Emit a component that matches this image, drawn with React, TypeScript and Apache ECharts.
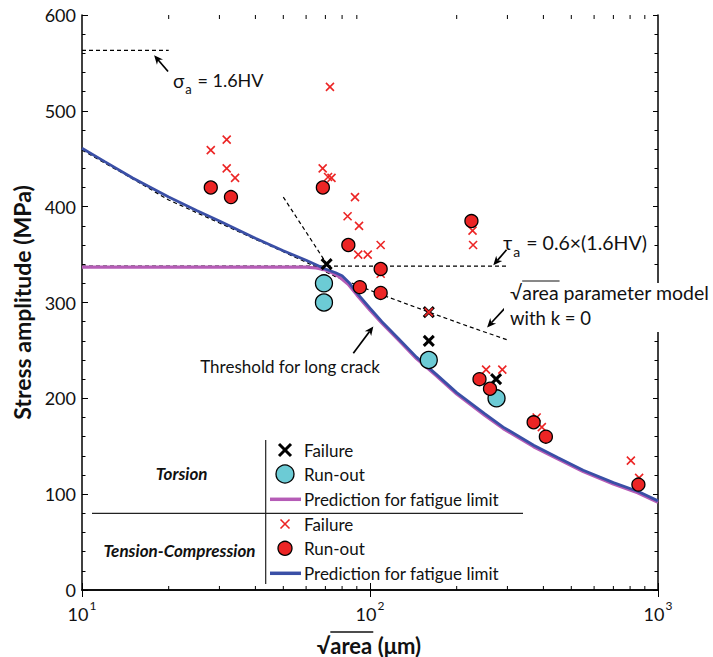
import React, { useEffect, useRef } from 'react';
import * as echarts from 'echarts';

// ---------- data ----------
const xMinorTicks = [20, 30, 40, 50, 60, 70, 80, 90, 200, 300, 400, 500, 600, 700, 800, 900];

// Torsion
const torsionFailure = [[70.7, 340], [160, 260], [160, 290], [274, 220]];
const torsionRunout = [[69.2, 320], [69.2, 300], [160, 240], [275, 200]];
const torPredX = [10, 60, 65, 70, 74, 78, 84, 90, 100, 110, 125, 145, 170, 200, 250, 290, 370, 450, 550, 700, 850, 1000];
const torPredY = [337, 337, 336, 334, 331, 327, 319, 308, 292, 278.5, 261.5, 241.5, 223.5, 204.5, 182.5, 168.5, 149.5, 136.5, 123.5, 110.5, 101.5, 91.5];

// Tension-Compression
const tcFailure = [
  [28.0, 459], [31.8, 470], [31.8, 440], [34.0, 430], [68.5, 440], [71.5, 431], [73.5, 430],
  [72.6, 525], [88.7, 410], [83.6, 390], [91.6, 380], [91.0, 350], [98.2, 350], [108.9, 360],
  [108.9, 330], [227, 375], [228, 360], [160, 290], [253, 230], [288, 230], [379, 180],
  [395, 170], [805, 135], [860, 117],
];
const tcRunout = [
  [28.0, 420], [32.9, 410], [68.6, 420], [84.1, 360], [108.9, 335], [92.2, 316], [108.9, 310],
  [225, 385], [240, 220], [261, 210], [370, 175], [408, 160], [855, 110],
];
const tcPredX = [10, 12, 15, 20, 25, 30, 40, 50, 60, 70, 76, 80, 85, 90, 100, 110, 125, 145, 170, 200, 250, 290, 370, 450, 550, 700, 850, 1000];
const tcPredY = [461, 447, 430, 410, 396, 385, 367, 354, 344, 335, 331, 328, 320, 310, 294, 280, 263, 243, 225, 206, 184, 170, 151, 138, 125, 112, 103, 93];

// Dashed reference lines
const modelX = [10, 15, 20, 30, 40, 50, 60, 76, 92, 110, 160, 220, 300];
const modelY = [459, 429, 407, 383, 366, 353, 342, 327, 317, 308, 290, 275, 261];
const steepX = [50, 76];
const steepY = [410, 326];
const sigmaLimit = 563;
const sigmaRange = [10, 20];
const tauLimit = 338;
const tauRange = [10, 300];

// Arrows: [fromX, fromY, toX(tip), toY(tip)]
const arrows = [
  [19.9, 541, 17.8, 558],
  [298, 355, 268, 339],
  [298, 296, 255, 274],
  [87.5, 247, 102.7, 275],
];

const RED = '#ec2525';
const CYAN = '#6ccbd5';
const MAGENTA = '#b55cb6';
const BLUE = '#3a4fa6';
const FONT = 'Lato, "Open Sans", sans-serif';
const XPATH = 'path://M0,0L10,10M10,0L0,10';

const zip = (xs: number[], ys: number[]) => xs.map((x, i) => [x, ys[i]]);

let measureCtx: CanvasRenderingContext2D | null = null;
function tw(text: string, size: number, weight = 'normal', style = 'normal') {
  if (!measureCtx) measureCtx = document.createElement('canvas').getContext('2d');
  measureCtx!.font = `${style} ${weight} ${size}px Lato`;
  return measureCtx!.measureText(text).width;
}

type Part = { t: string; size: number; dy?: number; gap?: number; weight?: string; fstyle?: string };
function seq(x0: number, y: number, parts: Part[]) {
  let x = x0;
  const els: any[] = [];
  parts.forEach((p) => {
    els.push({
      type: 'text', x, y: y + (p.dy || 0), z: 110,
      style: {
        text: p.t, fontSize: p.size, fontFamily: FONT, fontWeight: p.weight || 'normal',
        fontStyle: p.fstyle || 'normal', fill: '#111', verticalAlign: 'middle', align: 'left',
      },
    });
    x += tw(p.t, p.size, p.weight || 'normal', p.fstyle || 'normal') + (p.gap || 0);
  });
  return { els, end: x };
}

function buildGraphic() {
  const g: any[] = [];
  const txt = (x: number, y: number, text: string, size: number, extra: any = {}) => ({
    type: 'text', x, y, z: 110,
    style: { text, fontSize: size, fontFamily: FONT, fill: '#111', verticalAlign: 'middle', align: 'left', ...extra },
  });
  const ln = (x1: number, y1: number, x2: number, y2: number, stroke: string, w: number) => ({
    type: 'line', z: 110, shape: { x1, y1, x2, y2 }, style: { stroke, lineWidth: w },
  });

  // sigma_a annotation
  const s1 = seq(173, 80, [
    { t: 'σ', size: 19, gap: 1 },
    { t: 'a', size: 13, dy: 9, gap: 1 },
    { t: ' = 1.6HV', size: 18 },
  ]);
  g.push(...s1.els);

  // tau_a annotation
  const s2 = seq(503, 242, [
    { t: 'τ', size: 20, gap: 1 },
    { t: 'a', size: 14, dy: 9, gap: 1 },
    { t: ' = 0.6×(1.6HV)', size: 19.5 },
  ]);
  g.push(...s2.els);

  // sqrt(area) model annotation with white box
  g.push({ type: 'rect', z: 105, shape: { x: 504, y: 283, width: 209, height: 49 }, style: { fill: '#fff' } });
  const fs = 19.5;
  const sq = tw('√', fs);
  const ar = tw('area', fs);
  g.push(txt(510, 292, '√area parameter model', fs));
  g.push(ln(510 + sq, 281, 510 + sq + ar + 1, 281, '#111', 1));
  g.push(txt(510, 318, 'with k = 0', 18.5));

  // threshold annotation
  g.push(txt(380, 366, 'Threshold for long crack', 17, { align: 'right' }));

  // x axis title
  const xs = tw('√', 22, 'bold');
  const xa = tw('area', 22, 'bold');
  const xt = tw('√area (μm)', 22, 'bold');
  const x0 = 369 - xt / 2;
  g.push({
    type: 'text', x: x0, y: 645, z: 110,
    style: { text: '√area (μm)', fontSize: 22, fontWeight: 'bold', fontFamily: FONT, fill: '#111', verticalAlign: 'middle' },
  });
  g.push(ln(x0 + xs, 632, x0 + xs + xa + 1, 632, '#111', 1.5));

  // legend block
  g.push(ln(265.7, 440, 265.7, 584, '#222', 1.2));
  g.push(ln(92, 513.3, 523, 513.3, '#222', 1.2));
  g.push(txt(181.7, 473, 'Torsion', 17, { align: 'center', fontWeight: 'bold', fontStyle: 'italic' }));
  g.push(txt(179.5, 550, 'Tension-Compression', 17, { align: 'center', fontWeight: 'bold', fontStyle: 'italic' }));
  const mx = 285;
  const lx = 304;
  const rows = [450, 474, 499.3, 524, 548.3, 573.3];
  g.push(ln(mx - 6, rows[0] - 6, mx + 6, rows[0] + 6, '#000', 3));
  g.push(ln(mx + 6, rows[0] - 6, mx - 6, rows[0] + 6, '#000', 3));
  g.push({ type: 'circle', z: 110, shape: { cx: mx, cy: rows[1], r: 9 }, style: { fill: CYAN, stroke: '#000', lineWidth: 1.3 } });
  g.push(ln(270, rows[2], 301, rows[2], MAGENTA, 3.5));
  g.push(ln(mx - 4.5, rows[3] - 4.5, mx + 4.5, rows[3] + 4.5, RED, 1.6));
  g.push(ln(mx + 4.5, rows[3] - 4.5, mx - 4.5, rows[3] + 4.5, RED, 1.6));
  g.push({ type: 'circle', z: 110, shape: { cx: mx, cy: rows[4], r: 7 }, style: { fill: RED, stroke: '#000', lineWidth: 1.3 } });
  g.push(ln(270, rows[5], 301, rows[5], BLUE, 3.5));
  const labels = ['Failure', 'Run-out', 'Prediction for fatigue limit', 'Failure', 'Run-out', 'Prediction for fatigue limit'];
  labels.forEach((l, i) => g.push(txt(lx, rows[i], l, 17)));
  return g;
}

export default function App() {
  const ref = useRef<HTMLDivElement>(null);
  useEffect(() => {
    if (!ref.current) return;
    const chart = echarts.init(ref.current, undefined, { renderer: 'svg' });

    const yAxisBase = {
      type: 'value', min: 0, max: 600, interval: 100,
      axisLine: { show: true, lineStyle: { color: '#000', width: 1.5 } },
      axisTick: { show: true, inside: true, length: 6, lineStyle: { color: '#000', width: 1 } },
      minorTick: { show: true, splitNumber: 5, length: 3.5, lineStyle: { color: '#000', width: 1 } },
      splitLine: { show: false },
    };
    const xAxisBase = {
      type: 'log', logBase: 10, min: 10, max: 1000,
      axisLine: { show: true, lineStyle: { color: '#000', width: 1.5 } },
      axisTick: { show: true, inside: true, length: 7, lineStyle: { color: '#000', width: 1 } },
      splitLine: { show: false },
    };

    const option: any = {
      animation: false,
      backgroundColor: '#fff',
      grid: { left: 82, right: 55, top: 15, bottom: 67, containLabel: false },
      xAxis: [
        {
          ...xAxisBase, position: 'bottom',
          axisLabel: {
            show: true, margin: 9,
            formatter: (v: number) => `{a|10}{b|${Math.round(Math.log10(v))}}`,
            rich: {
              a: { fontSize: 18, fontFamily: FONT, color: '#111', lineHeight: 24, verticalAlign: 'bottom' },
              b: { fontSize: 12, fontFamily: FONT, color: '#111', lineHeight: 12, verticalAlign: 'top', padding: [0, 0, 0, 1] },
            },
          },
        },
        { ...xAxisBase, position: 'top', axisLabel: { show: false } },
      ],
      yAxis: [
        {
          ...yAxisBase, position: 'left',
          name: 'Stress amplitude (MPa)', nameLocation: 'middle', nameGap: 48, nameRotate: 90,
          nameTextStyle: { fontSize: 23, fontWeight: 'bold', fontFamily: FONT, color: '#111' },
          axisLabel: { show: true, fontSize: 18, fontFamily: FONT, color: '#111', margin: 6 },
        },
        { ...yAxisBase, position: 'right', axisLabel: { show: false }, axisTick: { ...yAxisBase.axisTick, length: 5 } },
      ],
      series: [
        {
          type: 'custom', name: 'minor x ticks', silent: true, clip: false, z: 1,
          data: xMinorTicks.map((v) => [v, 0]),
          encode: { x: 0, y: 1 },
          renderItem: (params: any, api: any) => {
            const v = api.value(0);
            const b = api.coord([v, 0]);
            const t = api.coord([v, 600]);
            return {
              type: 'group',
              children: [
                { type: 'line', shape: { x1: b[0], y1: b[1], x2: b[0], y2: b[1] - 4 }, style: { stroke: '#000', lineWidth: 1 } },
                { type: 'line', shape: { x1: t[0], y1: t[1], x2: t[0], y2: t[1] + 4 }, style: { stroke: '#000', lineWidth: 1 } },
              ],
            };
          },
        },
        {
          type: 'line', name: 'sigma limit', data: sigmaRange.map((x) => [x, sigmaLimit]), showSymbol: false, silent: true, z: 2,
          lineStyle: { color: '#000', width: 1.2, type: [4, 3] },
        },
        {
          type: 'line', name: 'tau limit', data: tauRange.map((x) => [x, tauLimit]), showSymbol: false, silent: true, z: 2,
          lineStyle: { color: '#000', width: 1.2, type: [4, 3] },
        },
        {
          type: 'line', name: 'model k=0', data: zip(modelX, modelY), showSymbol: false, silent: true, z: 2,
          lineStyle: { color: '#000', width: 1.2, type: [4, 3] },
        },
        {
          type: 'line', name: 'steep', data: zip(steepX, steepY), showSymbol: false, silent: true, z: 2,
          lineStyle: { color: '#000', width: 1.2, type: [4, 3] },
        },
        {
          type: 'custom', name: 'arrows', silent: true, clip: false, z: 20,
          data: arrows,
          encode: { x: [0, 2], y: [1, 3] },
          renderItem: (params: any, api: any) => {
            const p1 = api.coord([api.value(0), api.value(1)]);
            const p2 = api.coord([api.value(2), api.value(3)]);
            const dx = p2[0] - p1[0];
            const dy = p2[1] - p1[1];
            const L = Math.sqrt(dx * dx + dy * dy);
            const ux = dx / L, uy = dy / L;
            const nx = -uy, ny = ux;
            const hl = 9, hw = 4;
            const bx = p2[0] - ux * hl, by = p2[1] - uy * hl;
            const mx2 = p2[0] - ux * hl * 0.7, my2 = p2[1] - uy * hl * 0.7;
            return {
              type: 'group',
              children: [
                { type: 'line', shape: { x1: p1[0], y1: p1[1], x2: mx2, y2: my2 }, style: { stroke: '#000', lineWidth: 1.7 } },
                {
                  type: 'polygon',
                  shape: { points: [[p2[0], p2[1]], [bx + nx * hw, by + ny * hw], [mx2, my2], [bx - nx * hw, by - ny * hw]] },
                  style: { fill: '#000' },
                },
              ],
            };
          },
        },
        {
          type: 'line', name: 'Torsion prediction', data: zip(torPredX, torPredY), showSymbol: false, silent: true, z: 3,
          lineStyle: { color: MAGENTA, width: 3.2 },
        },
        {
          type: 'line', name: 'TC prediction', data: zip(tcPredX, tcPredY), showSymbol: false, silent: true, z: 4,
          lineStyle: { color: BLUE, width: 2.8 },
        },
        {
          type: 'scatter', name: 'Torsion run-out', data: torsionRunout, symbol: 'circle', symbolSize: 17, z: 5,
          itemStyle: { color: CYAN, borderColor: '#000', borderWidth: 1.3, opacity: 1 },
        },
        {
          type: 'scatter', name: 'Torsion failure', data: torsionFailure, symbol: XPATH, symbolSize: 10, z: 6,
          itemStyle: { color: 'transparent', borderColor: '#000', borderWidth: 3, opacity: 1 },
        },
        {
          type: 'scatter', name: 'TC failure', data: tcFailure, symbol: XPATH, symbolSize: 8, z: 7,
          itemStyle: { color: 'transparent', borderColor: RED, borderWidth: 1.6, opacity: 1 },
        },
        {
          type: 'scatter', name: 'TC run-out', data: tcRunout, symbol: 'circle', symbolSize: 13, z: 8,
          itemStyle: { color: RED, borderColor: '#000', borderWidth: 1.3, opacity: 1 },
        },
      ],
      graphic: buildGraphic(),
    };
    chart.setOption(option);
    return () => chart.dispose();
  }, []);
  return <div ref={ref} style={{ position: 'fixed', left: 0, top: 0, width: 713, height: 657, background: '#fff' }} />;
}
